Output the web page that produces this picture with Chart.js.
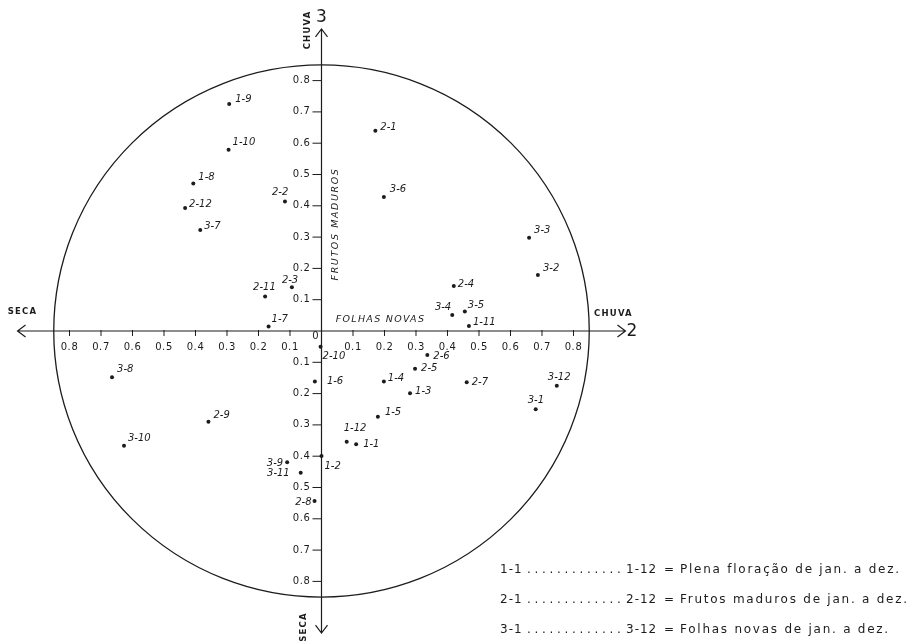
<!DOCTYPE html>
<html>
<head>
<meta charset="utf-8">
<script src="https://cdn.jsdelivr.net/npm/chart.js@4.4.1/dist/chart.umd.min.js"></script>
<style>
  html, body { margin: 0; padding: 0; background: #fff; }
  #wrap { width: 916px; height: 641px; }
</style>
</head>
<body>
<div id="wrap"><canvas id="chart" width="916" height="641"></canvas></div>
<script>
// Plena floração (1-1 ... 1-12)
const floracaoLabels = ['1-1', '1-2', '1-3', '1-4', '1-5', '1-6', '1-7', '1-8', '1-9', '1-10', '1-11', '1-12'];
const floracaoX = [0.110, 0.000, 0.281, 0.198, 0.179, -0.021, -0.168, -0.407, -0.293, -0.295, 0.468, 0.080];
const floracaoY = [-0.362, -0.399, -0.199, -0.161, -0.274, -0.161, 0.014, 0.471, 0.725, 0.579, 0.016, -0.354];

// Frutos maduros (2-1 ... 2-12)
const frutosLabels = ['2-1', '2-2', '2-3', '2-4', '2-5', '2-6', '2-7', '2-8', '2-9', '2-10', '2-11', '2-12'];
const frutosX = [0.171, -0.116, -0.094, 0.420, 0.297, 0.336, 0.461, -0.022, -0.359, -0.003, -0.179, -0.433];
const frutosY = [0.640, 0.414, 0.140, 0.144, -0.121, -0.077, -0.164, -0.543, -0.290, -0.050, 0.110, 0.393];

// Folhas novas (3-1 ... 3-12)
const folhasLabels = ['3-1', '3-2', '3-3', '3-4', '3-5', '3-6', '3-7', '3-8', '3-9', '3-10', '3-11', '3-12'];
const folhasX = [0.680, 0.687, 0.659, 0.415, 0.455, 0.198, -0.385, -0.665, -0.109, -0.627, -0.066, 0.747];
const folhasY = [-0.250, 0.179, 0.298, 0.051, 0.062, 0.428, 0.323, -0.148, -0.419, -0.367, -0.453, -0.175];

const tickValues = [-0.8, -0.7, -0.6, -0.5, -0.4, -0.3, -0.2, -0.1, 0.1, 0.2, 0.3, 0.4, 0.5, 0.6, 0.7, 0.8];

const legendKeysFrom = ['1-1', '2-1', '3-1'];
const legendKeysTo = ['1-12', '2-12', '3-12'];
const legendTexts = ['Plena floração de jan. a dez.', 'Frutos maduros de jan. a dez.', 'Folhas novas de jan. a dez.'];

// label placement next to each dot: [dx, dy, align]
const floracaoPlace = [[7, 0, 'left'], [3, 11, 'left'], [5, -2, 'left'], [4, -3, 'left'], [7, -4, 'left'], [12, 0, 'left'],
  [3, -7, 'left'], [5, -6, 'left'], [6, -5, 'left'], [4, -7, 'left'], [4, -4, 'left'], [-3, -13, 'left']];
const frutosPlace = [[5, -3, 'left'], [-13, -9, 'left'], [-10, -7, 'left'], [4, -2, 'left'], [6, 0, 'left'], [6, 1, 'left'],
  [5, 0, 'left'], [-3, 1, 'right'], [5, -6, 'left'], [2, 10, 'left'], [-12, -9, 'left'], [4, -4, 'left']];
const folhasPlace = [[-8, -9, 'left'], [5, -7, 'left'], [5, -7, 'left'], [-1, -8, 'right'], [3, -6, 'left'], [6, -8, 'left'],
  [4, -3, 'left'], [5, -8, 'left'], [-4, 1, 'right'], [4, -7, 'left'], [-11, 1, 'right'], [-9, -8, 'left']];

const INK = '#1c1c1c';
const FONT = '"DejaVu Sans", sans-serif';
const circleRadius = 0.85;
const axisReach = 0.965;

function toPoints(xs, ys) {
  return xs.map((v, i) => ({ x: v, y: ys[i] }));
}

function spacedText(ctx, text, x, y, spacing) {
  if ('letterSpacing' in ctx) {
    ctx.letterSpacing = spacing + 'px';
  }
  ctx.fillText(text, x, y);
  if ('letterSpacing' in ctx) ctx.letterSpacing = '0px';
}

const sketchPlugin = {
  id: 'sketch',
  beforeDatasetsDraw(chart) {
    const { ctx, scales: { x, y } } = chart;
    const ox = x.getPixelForValue(0), oy = y.getPixelForValue(0);
    ctx.save();
    ctx.strokeStyle = INK;
    ctx.fillStyle = INK;

    // the big circle
    ctx.lineWidth = 1.3;
    ctx.beginPath();
    ctx.ellipse(ox, oy, x.getPixelForValue(circleRadius) - ox, oy - y.getPixelForValue(circleRadius), 0, 0, Math.PI * 2);
    ctx.stroke();

    // axes with arrows
    const xl = x.getPixelForValue(-axisReach), xr = x.getPixelForValue(axisReach);
    const yt = y.getPixelForValue(axisReach), yb = y.getPixelForValue(-axisReach);
    ctx.lineWidth = 1.2;
    ctx.beginPath();
    ctx.moveTo(xl, oy); ctx.lineTo(xr, oy);
    ctx.moveTo(ox, yt); ctx.lineTo(ox, yb);
    ctx.moveTo(xl + 8, oy - 6); ctx.lineTo(xl, oy); ctx.lineTo(xl + 8, oy + 6);
    ctx.moveTo(xr - 8, oy - 6); ctx.lineTo(xr, oy); ctx.lineTo(xr - 8, oy + 6);
    ctx.moveTo(ox - 6, yt + 8); ctx.lineTo(ox, yt); ctx.lineTo(ox + 6, yt + 8);
    ctx.moveTo(ox - 6, yb - 8); ctx.lineTo(ox, yb); ctx.lineTo(ox + 6, yb - 8);
    ctx.stroke();

    // tick marks + labels
    ctx.lineWidth = 1;
    ctx.font = '10px ' + FONT;
    ctx.beginPath();
    tickValues.forEach(v => {
      const px = x.getPixelForValue(v);
      ctx.moveTo(px, oy - 1); ctx.lineTo(px, oy + 5);
      const py = y.getPixelForValue(v);
      ctx.moveTo(ox - 9, py); ctx.lineTo(ox, py);
    });
    ctx.stroke();
    ctx.textBaseline = 'middle';
    tickValues.forEach(v => {
      const txt = Math.abs(v).toFixed(1);
      ctx.textAlign = 'center';
      spacedText(ctx, txt, x.getPixelForValue(v), oy + 16, 0.6);
      ctx.textAlign = 'right';
      spacedText(ctx, txt, ox - 11, y.getPixelForValue(v), 0.6);
    });
    ctx.textAlign = 'center';
    ctx.fillText('0', ox - 6, oy + 5);

    // axis captions
    ctx.font = 'bold 8.5px ' + FONT;
    ctx.textAlign = 'center';
    spacedText(ctx, 'SECA', xl + 5, oy - 19, 1.2);
    spacedText(ctx, 'CHUVA', xr - 12, oy - 17, 1.2);
    ctx.save();
    ctx.translate(ox - 14, yt + 1);
    ctx.rotate(-Math.PI / 2);
    spacedText(ctx, 'CHUVA', 0, 0, 1.2);
    ctx.restore();
    ctx.save();
    ctx.translate(ox - 18, yb - 6);
    ctx.rotate(-Math.PI / 2);
    spacedText(ctx, 'SECA', 0, 0, 1.2);
    ctx.restore();

    ctx.font = '17px ' + FONT;
    ctx.textAlign = 'center';
    ctx.fillText('3', ox, yt - 11);
    ctx.textAlign = 'left';
    ctx.fillText('2', xr + 1, oy + 1);

    ctx.font = 'italic 9.5px ' + FONT;
    ctx.textAlign = 'center';
    spacedText(ctx, 'FOLHAS NOVAS', ox + 59, oy - 11, 1.3);
    ctx.save();
    ctx.translate(ox + 14, oy - 107);
    ctx.rotate(-Math.PI / 2);
    spacedText(ctx, 'FRUTOS MADUROS', 0, 0, 1.6);
    ctx.restore();
    ctx.restore();
  },
  afterDatasetsDraw(chart) {
    const { ctx } = chart;
    const labelSets = [floracaoLabels, frutosLabels, folhasLabels];
    const placeSets = [floracaoPlace, frutosPlace, folhasPlace];
    ctx.save();
    ctx.fillStyle = INK;
    ctx.font = 'italic 10px ' + FONT;
    ctx.textBaseline = 'middle';
    chart.data.datasets.forEach((ds, di) => {
      const meta = chart.getDatasetMeta(di);
      meta.data.forEach((pt, i) => {
        const p = placeSets[di][i];
        ctx.textAlign = p[2];
        ctx.fillText(labelSets[di][i], pt.x + p[0], pt.y + p[1]);
      });
    });

    // legend block bottom-right
    ctx.font = '12px ' + FONT;
    ctx.textAlign = 'left';
    legendTexts.forEach((txt, i) => {
      const yy = 570 + i * 30;
      spacedText(ctx, legendKeysFrom[i], 500, yy, 1);
      for (let dx = 527; dx < 622; dx += 7.5) ctx.fillText('.', dx, yy);
      spacedText(ctx, legendKeysTo[i], 626, yy, 1);
      ctx.fillText('=', 664, yy);
      spacedText(ctx, txt, 680, yy, 1.75);
    });
    ctx.restore();
  }
};

const pointStyle = {
  showLine: false,
  pointRadius: 2,
  pointHoverRadius: 2,
  pointBackgroundColor: INK,
  pointBorderWidth: 0,
  borderColor: INK
};

new Chart(document.getElementById('chart'), {
  type: 'scatter',
  data: {
    datasets: [
      Object.assign({ label: 'Plena floração', data: toPoints(floracaoX, floracaoY) }, pointStyle),
      Object.assign({ label: 'Frutos maduros', data: toPoints(frutosX, frutosY) }, pointStyle),
      Object.assign({ label: 'Folhas novas', data: toPoints(folhasX, folhasY) }, pointStyle)
    ]
  },
  options: {
    responsive: false,
    animation: false,
    devicePixelRatio: 1,
    layout: { padding: 10 },
    plugins: { legend: { display: false }, tooltip: { enabled: false } },
    scales: {
      x: { type: 'linear', min: -0.98889, max: 1.85556, display: false },
      y: { type: 'linear', min: -0.95847, max: 1.02556, display: false }
    }
  },
  plugins: [sketchPlugin]
});
</script>
</body>
</html>
